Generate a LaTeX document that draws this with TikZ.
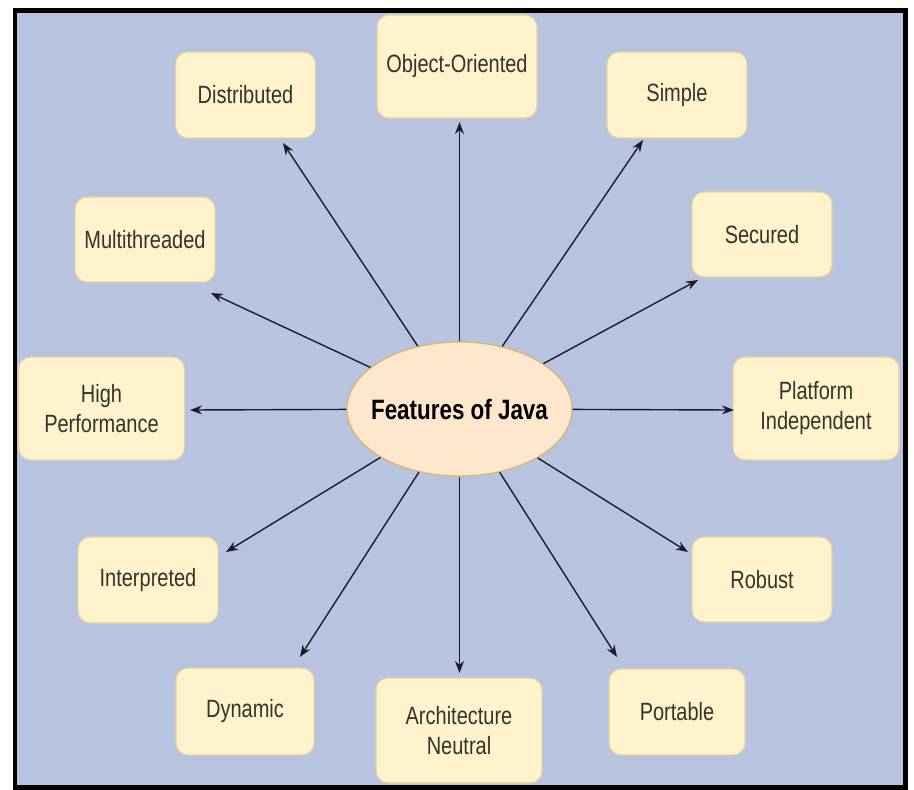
\documentclass[tikz,border=0pt]{standalone}
\usepackage{fontspec}
\setmainfont{Liberation Sans}[FakeStretch=0.8]
\usetikzlibrary{arrows.meta,shapes.geometric}
\definecolor{bgblue}{RGB}{183,195,223}
\definecolor{boxfill}{RGB}{255,243,206}
\definecolor{boxline}{RGB}{228,212,160}
\definecolor{ellfill}{RGB}{255,231,206}
\definecolor{ellline}{RGB}{214,184,112}
\definecolor{txt}{RGB}{52,52,42}
\definecolor{arrcol}{RGB}{28,28,44}
\tikzset{
  feat/.style={draw=boxline, line width=1.2pt, fill=boxfill, rounded corners=12pt,
    minimum width=140pt, minimum height=86pt, inner sep=0pt, align=center,
    text=txt, font=\fontsize{25}{30}\selectfont},
  featwide/.style={feat, minimum width=166pt, minimum height=103pt},
  arr/.style={draw=arrcol, line width=1.4pt, -{Stealth[length=12pt,width=9pt]}},
}
\begin{document}
\begin{tikzpicture}[x=1pt,y=-1pt]
\useasboundingbox (0,0) rectangle (914,790);
\draw[line width=4.5pt, fill=bgblue] (15,10.5) rectangle (905.5,787.5);

\node[ellipse, draw=ellline, line width=1.2pt, fill=ellfill, minimum width=225pt,
  minimum height=134pt, inner sep=0pt, font=\bfseries\fontsize{28}{33}\selectfont]
  (J) at (459.5,409) {\makebox[0pt]{Features of Java}};

\node[feat] (dist) at (245.5,95) {Distributed};
\node[featwide, minimum width=160pt] (obj) at (457,66.5) {Object-Oriented};
\node[feat] (simp) at (677,95) {Simple};
\node[feat, minimum height=85pt] (multi) at (145,239.5) {Multithreaded};
\node[feat, minimum height=85pt] (sec) at (762,234.5) {Secured};
\node[featwide] (high) at (101.5,408.5) {High\\Performance};
\node[featwide] (plat) at (816,408.5) {Platform\\Independent};
\node[feat] (interp) at (148,580) {Interpreted};
\node[feat, minimum height=85pt] (rob) at (762,579.5) {Robust};
\node[feat, minimum width=138pt, minimum height=87pt] (dyn) at (245,711.5) {Dynamic};
\node[featwide, minimum height=105pt] (arch) at (459,730.5) {Architecture\\Neutral};
\node[feat, minimum width=136pt] (port) at (677,712) {Portable};

\coordinate (tdist) at (283,143);
\coordinate (tobj) at (459.5,122);
\coordinate (tsimp) at (643,140);
\coordinate (tmulti) at (211,293);
\coordinate (tsec) at (698,280);
\coordinate (thigh) at (190,410);
\coordinate (tplat) at (734,410);
\coordinate (tinterp) at (226,552);
\coordinate (trob) at (688,552);
\coordinate (tdyn) at (300,657);
\coordinate (tarch) at (459.5,673);
\coordinate (tport) at (617,657);

\foreach \t in {tdist,tobj,tsimp,tmulti,tsec,thigh,tplat,tinterp,trob,tdyn,tarch,tport}
  \draw[arr] (J) -- (\t);
\end{tikzpicture}
\end{document}
